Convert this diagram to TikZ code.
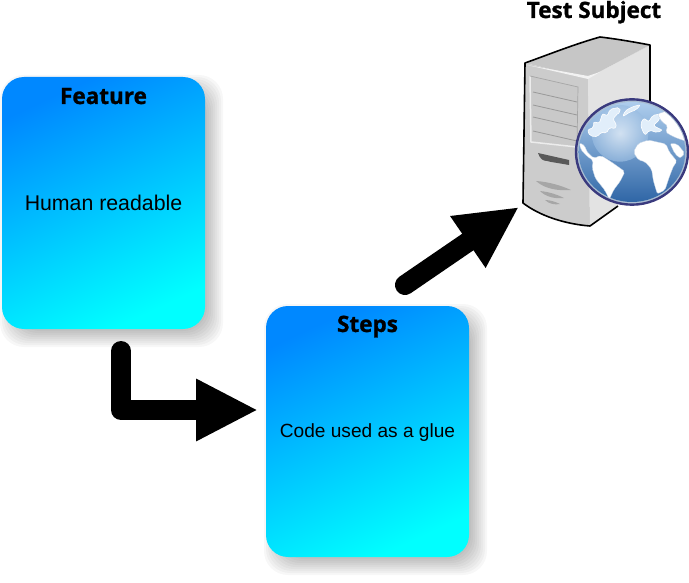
\documentclass[tikz,border=0pt]{standalone}
\usepackage{fontspec}
\usepackage{tikz}
\usetikzlibrary{arrows.meta}
\setmainfont{Liberation Sans}
\newfontfamily\titlefont[BoldFeatures={FakeBold=1.1}]{Open Sans}

\definecolor{cardblue}{HTML}{0088FF}
\definecolor{cardmid}{HTML}{00C4FF}
\definecolor{cardcyan}{HTML}{00FFFF}
\definecolor{globenavy}{HTML}{3A3A7E}
\definecolor{globedeep}{HTML}{2F66A6}
\definecolor{globepale}{HTML}{BCD9F5}

\tikzset{
    cardbox/.style={rounded corners=22pt, minimum width=203pt, minimum height=251pt, inner sep=0pt,
        top color=cardblue, middle color=cardmid, bottom color=cardcyan, shading angle=25},
    cardtitle/.style={font=\titlefont\bfseries\fontsize{22.5}{26}\selectfont, inner sep=0pt, anchor=base},
    bigarrow/.style={line width=20pt, line cap=round, line join=round, -{Triangle[length=62pt,width=58pt]}},
    land/.style={fill=white, draw=white!70!globedeep, line width=0.3pt, rounded corners=2pt},
    paleland/.style={fill=globepale!45!white, draw=white, line width=0.6pt, rounded corners=2pt},
}

% Soft shadow under a card
\newcommand{\cardshadow}[4]{
    \foreach \g in {-6,-4,...,10}
        \fill[black, opacity=0.03, rounded corners=24pt]
            (#1+8-\g,#2+8-\g) rectangle (#3+8+\g,#4+8+\g);
}

\begin{document}
\begin{tikzpicture}[x=1pt,y=-1pt]
    \useasboundingbox (0,0) rectangle (689,583);

    % Draw the shadows
    \cardshadow{2}{77}{205}{329}
    \cardshadow{266}{306}{469}{557}

    % Draw the cards
    \node[cardbox, minimum height=252pt, font=\fontsize{21.3}{25}\selectfont] (feature) at (103.5,203) {Human readable};
    \node[cardbox, text depth=2pt, font=\fontsize{19.1}{23}\selectfont] (steps) at (367.5,431.5) {Code used as a glue};
    \node[cardtitle] (featuretitle) at (103.5,104) {Feature};
    \node[cardtitle] (stepstitle) at (367.5,332) {Steps};
    \node[cardtitle] (subjecttitle) at (594,18) {Test Subject};

    % Draw the server
    \fill[gray!45] (525,63) .. controls (550,54) and (575,44) .. (600,37) .. controls (617,39) and (634,42) .. (650,45) -- (588,78) -- cycle;
    \fill[gray!35] (588,78) -- (650,45) -- (650,120) -- (617,207) -- (590,226) -- cycle;
    \fill[gray!40] (525,63) -- (588,78) -- (590,226) .. controls (565,224) and (540,216) .. (523,203) -- cycle;
    \fill[gray!22] (588,78) -- (649,46) -- (649,120) -- (617,206) -- (590,225) -- cycle;
    \fill[gray!10] (527,65) -- (588,79) -- (600,72) -- (588,76) -- cycle;
    \fill[gray!42] (530,76) -- (578,87) -- (577,147) -- (531,142) -- cycle;
    \draw[gray!15, line width=1.5pt] (530,76) -- (531,142) -- (577,147);
    \draw[gray!70, line width=0.7pt] (530,76) -- (578,87) -- (577,147);
    \foreach \y in {92,105,117,131}
        \draw[gray!80, line width=0.8pt] (533,\y) -- (577,\y+10);
    \fill[black!65] (538,153) -- (569,160) -- (569,165) .. controls (558,163) and (550,162) .. (547,161) .. controls (543,161) and (540,159) .. (538,153) -- cycle;
    \fill[gray!70] (536,181) .. controls (550,182) and (562,186) .. (571,190) .. controls (558,191) and (545,189) .. (536,181) -- cycle;
    \fill[gray!70] (540,191) .. controls (550,192) and (558,195) .. (564,198) .. controls (555,199) and (546,197) .. (540,191) -- cycle;
    \fill[gray!70] (545,200) .. controls (550,200) and (556,202) .. (560,204) .. controls (555,205) and (549,204) .. (545,200) -- cycle;
    \draw[black, line width=1.6pt, line join=round] (650,110) -- (650,45) .. controls (634,42) and (617,39) .. (600,37) .. controls (575,44) and (550,54) .. (525,63) -- (523,203) .. controls (540,216) and (565,224) .. (590,226) -- (618,206);

    % Draw the globe
    \begin{scope}[shift={(570,90)},x=0.3333pt,y=-0.3333pt]
        \fill[globepale!70!gray] (186,186) ellipse (170 and 160);
        \shade[top color=globepale!90!globedeep, middle color=globepale!50!globedeep, bottom color=globedeep] (186,186) ellipse (160 and 150);
        \shade[inner color=white!80!globepale, outer color=globepale!75!globedeep, opacity=0.7] (150,130) circle (85);
        \begin{scope}
            \clip (186,186) ellipse (161 and 151);
            % North America and Greenland
            \draw[paleland] (52,120) -- (72,112) -- (70,95) -- (88,100) -- (98,70) -- (112,78) -- (120,58) -- (148,52) -- (152,66) -- (136,76) -- (128,92) -- (140,100) -- (136,116) -- (118,112) -- (110,130) -- (92,126) -- (84,140) -- (60,138) -- cycle;
            \draw[paleland] (158,80) -- (166,62) -- (188,50) -- (212,44) -- (198,60) -- (180,66) -- cycle;
            % Europe and Asia
            \draw[paleland] (212,100) -- (222,84) -- (236,96) -- (248,76) -- (272,72) -- (268,90) -- (250,106) -- (262,114) -- (278,120) -- (262,128) -- (238,120) -- (226,136) -- (216,120) -- cycle;
            \draw[land] (262,72) -- (300,60) -- (345,100) -- (352,155) -- (325,146) -- (306,138) -- (286,126) -- (294,108) -- (276,96) -- cycle;
            % Central and South America
            \draw[land] (28,158) -- (46,168) -- (48,182) -- (62,196) -- (72,205) -- (92,196) -- (112,208) -- (130,220) -- (165,245) -- (150,275) -- (132,298) -- (118,328) -- (104,300) -- (76,265) -- (66,232) -- (70,212) -- (50,198) -- (32,178) -- cycle;
            % Africa and Arabia
            \draw[land] (190,186) -- (205,160) -- (235,150) -- (262,156) -- (288,162) -- (298,186) -- (322,215) -- (312,225) -- (300,255) -- (285,300) -- (262,312) -- (250,272) -- (245,238) -- (225,215) -- (205,210) -- cycle;
            \draw[land] (300,160) -- (322,162) -- (345,190) -- (330,205) -- (314,190) -- cycle;
        \end{scope}
        \draw[globenavy, line width=2.4pt] (186,186) ellipse (168 and 158);
    \end{scope}

    % Draw the arrows
    \coordinate (featureout) at (121,351);
    \coordinate (stepsin) at (258,410);
    \coordinate (stepsout) at (405,285);
    \coordinate (subjectin) at (519,207);
    \draw[bigarrow] (featureout) |- (stepsin);
    \draw[bigarrow] (stepsout) -- (subjectin);
\end{tikzpicture}
\end{document}
